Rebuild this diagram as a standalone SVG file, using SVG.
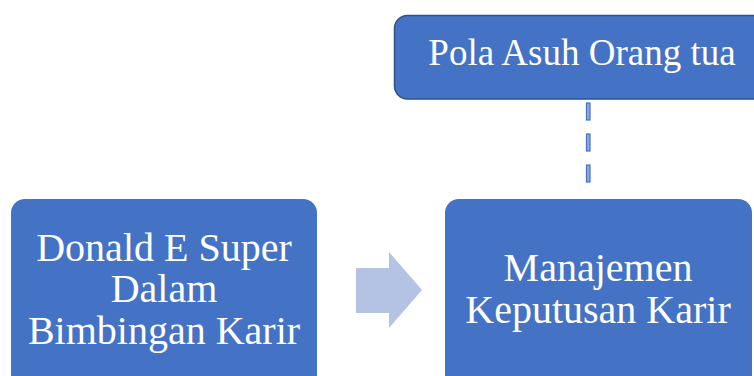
<svg xmlns="http://www.w3.org/2000/svg" width="754" height="376" viewBox="0 0 754 376">
<style>
.box{fill:#4472C4;}
.lbl{font-family:"Liberation Serif","Times New Roman",serif;font-size:40px;fill:#FFFFFF;text-anchor:middle;}
.dash{fill:#8FAADC;stroke:#4472C4;stroke-width:1.2;}
</style>
<g id="connectors">
<rect class="dash" x="586.5" y="103" width="3.5" height="17"/>
<rect class="dash" x="586.5" y="134" width="3.5" height="17"/>
<rect class="dash" x="586.5" y="165" width="3.5" height="17"/>
<polygon id="arrow" points="356,268 389,268 389,252 422,290 389,328 389,313 356,313" fill="#B4C3E3"/>
</g>
<g id="node-pola">
<rect class="box" x="394.5" y="15.5" width="380" height="83.5" rx="13" stroke="#2F528F" stroke-width="1.5"/>
<text class="lbl" x="582" y="65" style="font-size:37px">Pola Asuh Orang tua</text>
</g>
<g id="node-super">
<rect class="box" x="11" y="199" width="306" height="200" rx="14"/>
<text class="lbl" x="164" y="261">Donald E Super</text>
<text class="lbl" x="164" y="302">Dalam</text>
<text class="lbl" x="164" y="344">Bimbingan Karir</text>
</g>
<g id="node-manajemen">
<rect class="box" x="445" y="199" width="307" height="200" rx="14"/>
<text class="lbl" x="598" y="281">Manajemen</text>
<text class="lbl" x="598" y="323">Keputusan Karir</text>
</g>
</svg>
